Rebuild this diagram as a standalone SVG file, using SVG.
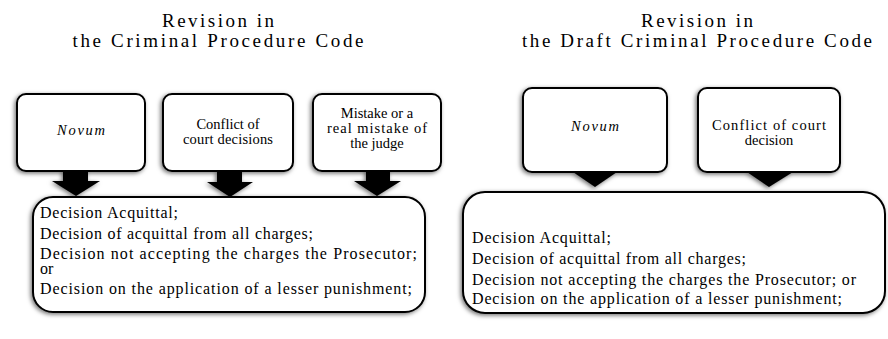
<svg xmlns="http://www.w3.org/2000/svg" width="888" height="339" viewBox="0 0 888 339">
<defs>
<filter id="sh" x="-20%" y="-20%" width="140%" height="140%">
<feDropShadow dx="-1.5" dy="1.5" stdDeviation="2" flood-color="#000" flood-opacity="0.55"/>
</filter>
<style>
.t{font-family:"Liberation Serif","Times New Roman",serif;fill:#000}
.title{font-size:19px;text-anchor:middle}
.lbl{font-size:14.5px;text-anchor:middle}
.it{font-style:italic}
.body{font-size:16px}
.box{fill:#fff;stroke:#000;stroke-width:2;filter:url(#sh)}
.arr{fill:#000;filter:url(#sh)}
</style>
</defs>
<rect width="888" height="339" fill="#fff"/>

<g id="title-left">
<text class="t title" x="218" y="27" textLength="112">Revision in</text>
<text class="t title" x="218" y="47" textLength="291">the Criminal Procedure Code</text>
</g>
<g id="title-right">
<text class="t title" x="697" y="27" textLength="112">Revision in</text>
<text class="t title" x="697" y="47" textLength="350">the Draft Criminal Procedure Code</text>
</g>

<g id="connectors">
<polygon class="arr" points="63,170 88,170 88,181 100,181 76,196 52,181 63,181"/>
<polygon class="arr" points="217,171 242,171 242,182 253,182 230,197 207,182 217,182"/>
<polygon class="arr" points="366,170 390,170 390,181 401,181 377,196 354,181 366,181"/>
<polygon class="arr" points="573,172 617,172 595,187"/>
<polygon class="arr" points="747,172 793,172 769,187"/>
</g>

<g id="l-novum">
<rect class="box" x="17" y="94" width="128" height="77" rx="9"/>
<text class="t lbl it" x="81" y="135" textLength="48">Novum</text>
</g>
<g id="l-conflict">
<rect class="box" x="163" y="94" width="130" height="77" rx="9"/>
<text class="t lbl" x="228" y="129">Conflict of</text>
<text class="t lbl" x="228" y="144" textLength="90">court decisions</text>
</g>
<g id="l-mistake">
<rect class="box" x="313" y="94" width="128" height="77" rx="9"/>
<text class="t lbl" x="377" y="118">Mistake or a</text>
<text class="t lbl" x="377" y="133" textLength="100">real mistake of</text>
<text class="t lbl" x="377" y="148">the judge</text>
</g>
<g id="l-decisions">
<rect class="box" x="33" y="197" width="392" height="115" rx="20"/>
<text class="t body" x="40" y="218" textLength="138">Decision Acquittal;</text>
<text class="t body" x="40" y="239" textLength="273">Decision of acquittal from all charges;</text>
<text class="t body" x="40" y="259" textLength="377">Decision not accepting the charges the Prosecutor;</text>
<text class="t body" x="40" y="274">or</text>
<text class="t body" x="40" y="294" textLength="372">Decision on the application of a lesser punishment;</text>
</g>

<g id="r-novum">
<rect class="box" x="523" y="88" width="144" height="84" rx="9"/>
<text class="t lbl it" x="595" y="131" textLength="48">Novum</text>
</g>
<g id="r-conflict">
<rect class="box" x="698" y="88" width="142" height="84" rx="9"/>
<text class="t lbl" x="769" y="130" textLength="114">Conflict of court</text>
<text class="t lbl" x="769" y="145">decision</text>
</g>
<g id="r-decisions">
<rect class="box" x="463" y="192" width="422" height="121" rx="22"/>
<text class="t body" x="472" y="243" textLength="139">Decision Acquittal;</text>
<text class="t body" x="472" y="264" textLength="274">Decision of acquittal from all charges;</text>
<text class="t body" x="472" y="285" textLength="384">Decision not accepting the charges the Prosecutor; or</text>
<text class="t body" x="472" y="304" textLength="370">Decision on the application of a lesser punishment;</text>
</g>
</svg>
